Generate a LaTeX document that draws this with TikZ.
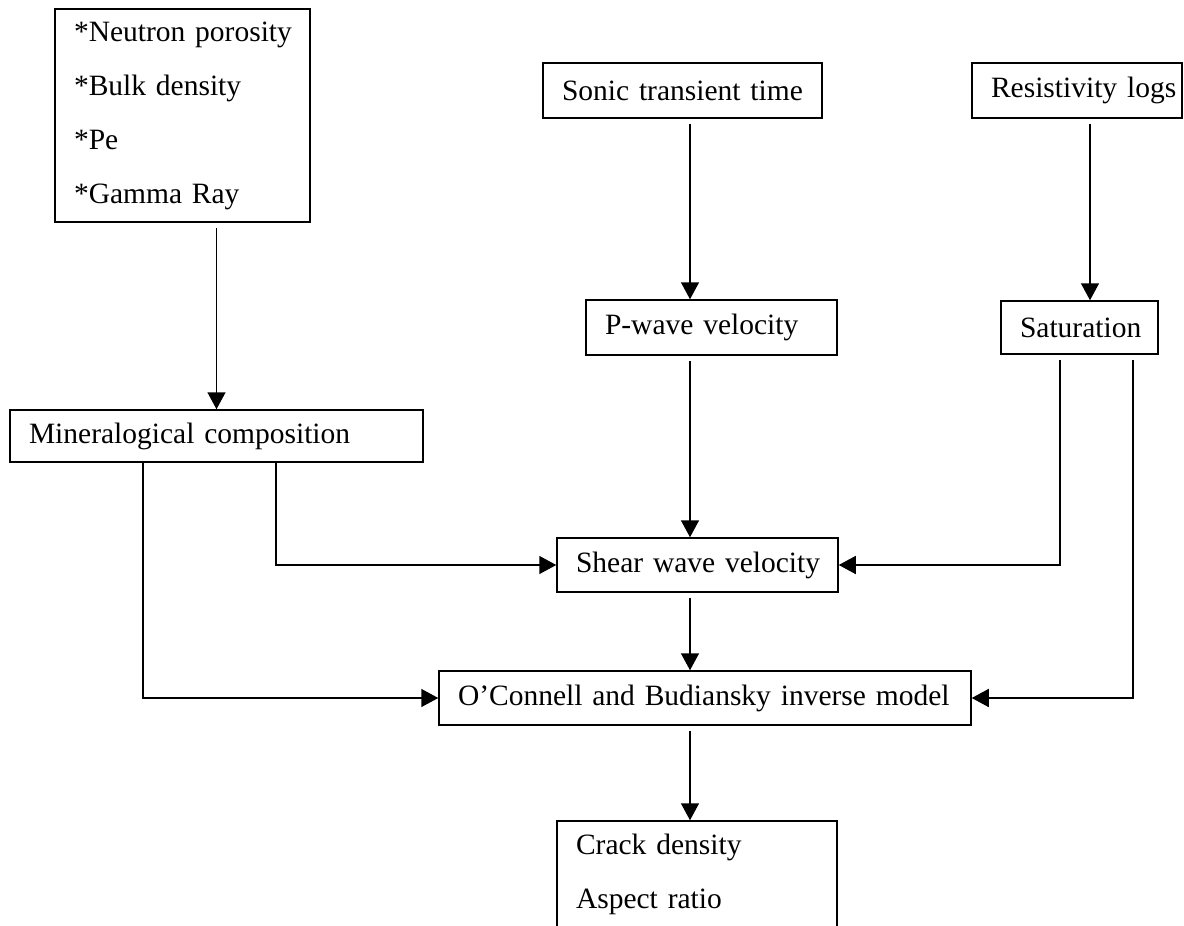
\documentclass[tikz,border=0pt]{standalone}
\usepackage{fontspec}
\setmainfont{Liberation Serif}
\usetikzlibrary{arrows.meta}
\newcommand\flowfont{\fontsize{14.75pt}{27pt}\selectfont\fontdimen2\font=0.19em\relax}

\begin{document}
\begin{tikzpicture}[x=0.5pt, y=-0.5pt,
	box/.style={draw, line width=0.75pt, inner xsep=9.5pt, inner ysep=0pt, align=left, font=\flowfont,
		execute at begin node={\hyphenpenalty=10000\exhyphenpenalty=10000}},
	flow/.style={line width=0.75pt, shorten <=2.5pt, -{Triangle[length=8.5pt, width=9pt]}}]
	\path[use as bounding box, clip] (0,0) rectangle (1184,926);

	\node[box, minimum width=127.5pt, minimum height=106.5pt, text width=108.5pt] (logs) at (182.5,115.5) {*Neutron~porosity\\{*}Bulk density\\{*}Pe\\{*}Gamma Ray};
	\node[box, minimum width=139.5pt, minimum height=27.5pt, text width=120.5pt] (sonic) at (682.5,90.5) {Sonic~transient~time};
	\node[box, minimum width=105pt, minimum height=27.5pt, text width=86pt] (resist) at (1077,90.5) {Resistivity~logs};
	\node[box, minimum width=125.5pt, minimum height=27.5pt, text width=106.5pt] (pwave) at (711.5,327.5) {P-wave~velocity};
	\node[box, minimum width=78.5pt, minimum height=26.5pt, text width=59.5pt] (sat) at (1079.5,327.5) {Saturation};
	\node[box, minimum width=206.5pt, minimum height=26pt, text width=187.5pt] (mineral) at (216.5,436) {Mineralogical~composition};
	\node[box, minimum width=140.5pt, minimum height=27pt, text width=121.5pt] (shear) at (697.5,565) {Shear~wave~velocity};
	\node[box, minimum width=266pt, minimum height=27pt, text width=247pt] (oconn) at (705,698) {O’Connell~and~Budiansky~inverse~model};
	\node[box, minimum width=140pt, minimum height=53.5pt, text width=121pt] (crack) at (697,874.5) {Crack density\\Aspect ratio};

	\coordinate (axis) at (690,0);
	\coordinate (rlog) at (1090,0);
	\coordinate (mleft) at (143,0);
	\coordinate (mright) at (276,0);
	\coordinate (sleft) at (1060,0);
	\coordinate (sright) at (1133,0);

	\draw[flow] (logs.south -| mineral.north) -- (mineral.north);
	\draw[flow] (sonic.south -| axis) -- (pwave.north -| axis);
	\draw[flow] (resist.south -| rlog) -- (sat.north -| rlog);
	\draw[flow] (pwave.south -| axis) -- (shear.north -| axis);
	\draw[flow] (shear.south -| axis) -- (oconn.north -| axis);
	\draw[flow] (oconn.south -| axis) -- (crack.north -| axis);
	\draw[flow, shorten <=0pt] (mineral.south -| mright) |- (shear.west);
	\draw[flow, shorten <=0pt] (mineral.south -| mleft) |- (oconn.west);
	\draw[flow] (sat.south -| sleft) |- (shear.east);
	\draw[flow] (sat.south -| sright) |- (oconn.east);
\end{tikzpicture}
\end{document}
